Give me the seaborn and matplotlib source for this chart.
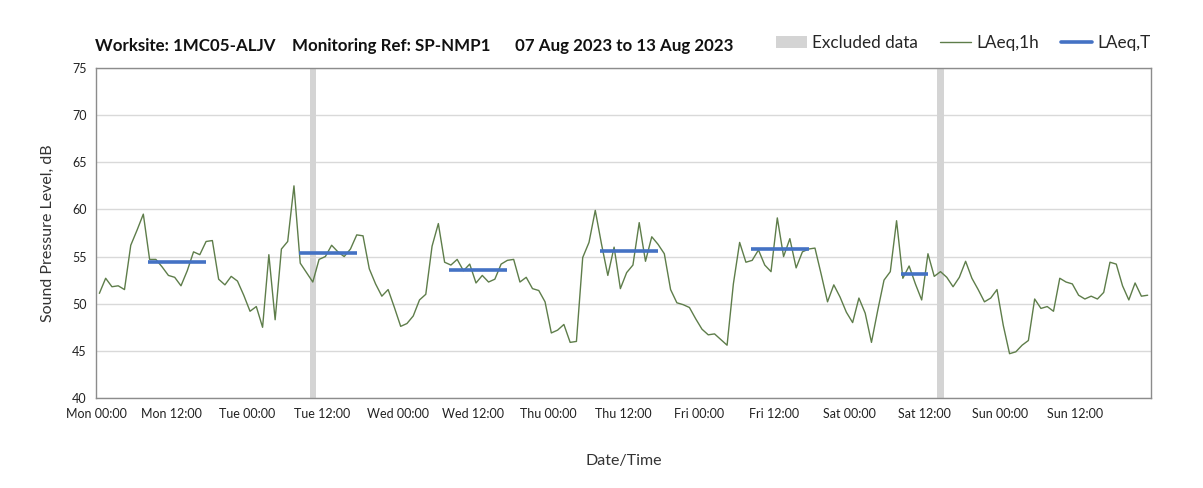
import numpy as np
import pandas as pd
import matplotlib
matplotlib.use("Agg")
import matplotlib.pyplot as plt
from matplotlib.patches import Patch
from matplotlib.lines import Line2D
import seaborn as sns

# hourly LAeq,1h values, Mon 00:00 -> Sun 23:00 (168 hours)
laeq_1h = [
    51.1, 52.7, 51.8, 51.9, 51.5, 56.2, 57.8, 59.5, 54.7, 54.7, 53.9, 53.0,
    52.8, 51.9, 53.5, 55.5, 55.2, 56.6, 56.7, 52.6, 52.0, 52.9, 52.4, 50.9,
    49.2, 49.7, 47.5, 55.2, 48.3, 55.8, 56.6, 62.5, 54.3, 53.3, 52.3, 54.7,
    55.0, 56.2, 55.5, 55.0, 55.8, 57.3, 57.2, 53.7, 52.1, 50.8, 51.5, 49.6,
    47.6, 47.9, 48.7, 50.4, 51.0, 56.1, 58.5, 54.4, 54.1, 54.7, 53.5, 54.2,
    52.2, 53.0, 52.3, 52.6, 54.2, 54.6, 54.7, 52.3, 52.8, 51.6, 51.4, 50.2,
    46.9, 47.2, 47.8, 45.9, 46.0, 54.9, 56.5, 59.9, 56.3, 53.0, 56.0, 51.6,
    53.3, 54.1, 58.6, 54.5, 57.1, 56.3, 55.3, 51.5, 50.1, 49.9, 49.6, 48.4,
    47.3, 46.7, 46.8, 46.2, 45.6, 52.1, 56.5, 54.4, 54.6, 55.7, 54.1, 53.4,
    59.1, 55.0, 56.9, 53.8, 55.5, 55.8, 55.9, 53.1, 50.2, 52.0, 50.7, 49.1,
    48.0, 50.6, 49.0, 45.9, 49.3, 52.5, 53.4, 58.8, 52.7, 54.0, 52.1, 50.4,
    55.3, 52.9, 53.4, 52.8, 51.8, 52.8, 54.5, 52.7, 51.5, 50.2, 50.6, 51.5,
    47.7, 44.7, 44.9, 45.6, 46.1, 50.5, 49.5, 49.7, 49.2, 52.7, 52.3, 52.1,
    50.9, 50.5, 50.8, 50.5, 51.2, 54.4, 54.2, 51.9, 50.4, 52.2, 50.8, 50.9,
]

# LAeq,T daytime periods (hours from Mon 00:00)
period_start = [8.25, 32.25, 56.25, 80.25, 104.25, 128.25]
period_end = [17.5, 41.5, 65.5, 89.5, 113.5, 132.5]
laeq_t = [54.4, 55.4, 53.6, 55.6, 55.8, 53.2]

# excluded hours (start hour, one hour long)
excluded_hours = [34, 134]

tick_hours = list(range(0, 169, 12))
tick_labels = ["Mon 00:00", "Mon 12:00", "Tue 00:00", "Tue 12:00", "Wed 00:00",
               "Wed 12:00", "Thu 00:00", "Thu 12:00", "Fri 00:00", "Fri 12:00",
               "Sat 00:00", "Sat 12:00", "Sun 00:00", "Sun 12:00", ""]

sns.set_style("white")
plt.rcParams['font.family'] = ['Lato', 'DejaVu Sans']

green = "#5E7D4A"
blue = "#4472C4"
grey_band = "#D4D4D4"
frame = "#8C8C8C"

df = pd.DataFrame({"hour": np.arange(len(laeq_1h)) + 0.5, "laeq": laeq_1h})

fig = plt.figure(figsize=(12.03, 4.88), dpi=100)
ax = fig.add_axes([0.080, 0.1844, 0.8766, 0.6763])

for h in excluded_hours:
    ax.axvspan(h, h + 1, color=grey_band, lw=0, zorder=1)

sns.lineplot(data=df, x="hour", y="laeq", color=green, lw=1.0, ax=ax, zorder=3)
ax.hlines(laeq_t, period_start, period_end, colors=blue, lw=2.6, zorder=4)

ax.set_xlim(0, 168)
ax.set_ylim(40, 75)
ax.set_yticks(range(40, 76, 5))
ax.set_xticks(tick_hours)
ax.set_xticklabels(tick_labels)
ax.set_xticks(range(0, 169, 24), minor=True)

ax.grid(False)
ax.yaxis.grid(True, color="#D9D9D9", lw=1.0, zorder=0)
ax.xaxis.grid(True, which="minor", color="#DEDEDE", lw=1.0, zorder=0)
ax.set_axisbelow(True)

for s in ax.spines.values():
    s.set_color(frame)
    s.set_linewidth(1.0)

ax.tick_params(axis="both", which="major", direction="out", length=4, width=1,
               color=frame, labelsize=9, labelcolor="#222222", pad=3)
ax.tick_params(axis="x", which="minor", length=0)

ax.set_xlabel("Date/Time", fontsize=11.5, color="#333333", labelpad=25)
ax.set_ylabel("Sound Pressure Level, dB", fontsize=11.5, color="#333333", labelpad=12)

fig.text(0.079, 0.905,
         "Worksite: 1MC05-ALJV    Monitoring Ref: SP-NMP1      07 Aug 2023 to 13 Aug 2023",
         fontsize=12.2, fontweight="bold", color="#111111", va="center")

handles = [
    Patch(facecolor=grey_band, edgecolor="none", label="Excluded data"),
    Line2D([0], [0], color=green, lw=1.0, label="LAeq,1h"),
    Line2D([0], [0], color=blue, lw=2.6, label="LAeq,T"),
]
fig.legend(handles=handles, loc="center right", bbox_to_anchor=(0.969, 0.912),
           ncol=3, frameon=False, fontsize=12.3, handlelength=1.8,
           handletextpad=0.3, columnspacing=1.3)

fig.savefig("out.png", dpi=100)
